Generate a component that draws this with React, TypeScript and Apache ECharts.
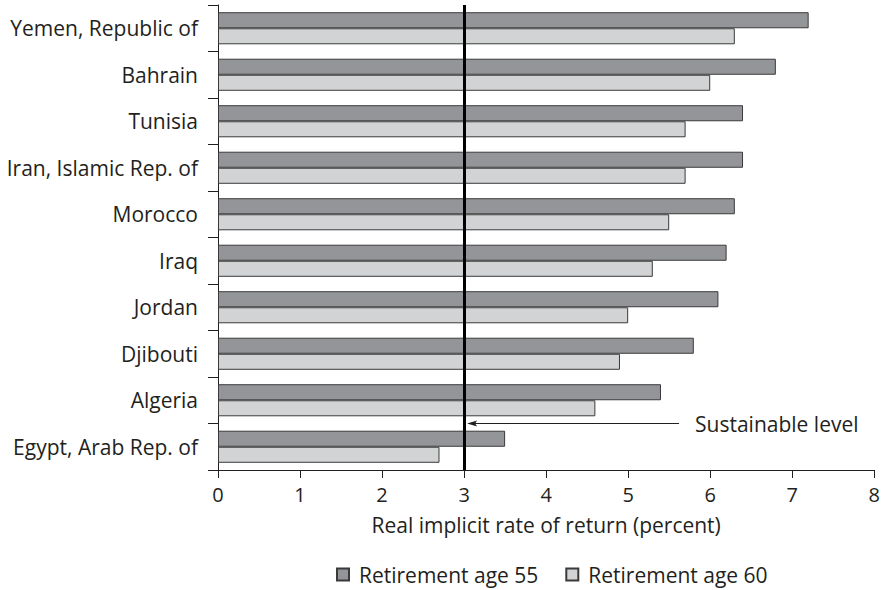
import React, { useEffect, useRef } from "react";
import * as echarts from "echarts";

const categories = [
  "Yemen, Republic of",
  "Bahrain",
  "Tunisia",
  "Iran, Islamic Rep. of",
  "Morocco",
  "Iraq",
  "Jordan",
  "Djibouti",
  "Algeria",
  "Egypt, Arab Rep. of",
];
const age55 = [7.2, 6.8, 6.4, 6.4, 6.3, 6.2, 6.1, 5.8, 5.4, 3.5];
const age60 = [6.3, 6.0, 5.7, 5.7, 5.5, 5.3, 5.0, 4.9, 4.6, 2.7];
const seriesNames = ["Retirement age 55", "Retirement age 60"];
const sustainableLevel = 3;
const annotationText = "Sustainable level";
const annotationStart = 5.62;

const FONT = "Open Sans";
const DARK = "#939598";
const LIGHT = "#d1d3d4";
const EDGE = "#3a3a3a";
const INK = "#231f20";

export default function App() {
  const ref = useRef<HTMLDivElement>(null);
  useEffect(() => {
    if (!ref.current) return;
    const chart = echarts.init(ref.current, null, { renderer: "svg" });
    chart.setOption({
      animation: false,
      textStyle: { fontFamily: FONT, color: INK },
      grid: { left: 218, right: 7, top: 5, bottom: 120 },
      legend: {
        bottom: 0,
        left: 331,
        itemWidth: 12,
        itemHeight: 12,
        itemGap: 27,
        icon: "rect",
        textStyle: { fontFamily: FONT, fontSize: 21, color: INK, padding: [0, 0, 0, 5] },
        data: seriesNames,
      },
      xAxis: {
        type: "value",
        min: 0,
        max: 8,
        interval: 1,
        name: "Real implicit rate of return (percent)",
        nameLocation: "middle",
        nameGap: 44,
        nameTextStyle: { fontFamily: FONT, fontSize: 21, color: INK },
        axisLine: { show: true, lineStyle: { color: INK, width: 1 } },
        axisTick: { show: true, length: 8, lineStyle: { color: INK } },
        axisLabel: { fontFamily: FONT, fontSize: 20, color: INK, margin: 14 },
        splitLine: { show: false },
      },
      yAxis: {
        type: "category",
        inverse: true,
        data: categories,
        axisLine: { show: true, lineStyle: { color: INK, width: 1 } },
        axisTick: { show: true, length: 10, lineStyle: { color: INK } },
        axisLabel: { fontFamily: FONT, fontSize: 21, color: INK, margin: 20 },
      },
      series: [
        {
          name: seriesNames[0],
          type: "bar",
          data: age55,
          barGap: "0%",
          barCategoryGap: "31%",
          itemStyle: { color: DARK, borderColor: EDGE, borderWidth: 1 },
          markLine: {
            silent: true,
            symbol: "none",
            label: { show: false },
            lineStyle: { color: "#000", width: 3, type: "solid" },
            data: [{ xAxis: sustainableLevel }],
          },
        },
        {
          name: seriesNames[1],
          type: "bar",
          data: age60,
          barGap: "0%",
          barCategoryGap: "31%",
          itemStyle: { color: LIGHT, borderColor: EDGE, borderWidth: 1 },
        },
      ],
    });

    const x3 = chart.convertToPixel({ xAxisIndex: 0 }, sustainableLevel) as number;
    const xs = chart.convertToPixel({ xAxisIndex: 0 }, annotationStart) as number;
    const yA = chart.convertToPixel({ yAxisIndex: 0 }, categories[8]) as number;
    const yE = chart.convertToPixel({ yAxisIndex: 0 }, categories[9]) as number;
    const yMid = (yA + yE) / 2;
    const tip = x3 + 3;
    chart.setOption({
      graphic: [
        {
          type: "line",
          shape: { x1: xs, y1: yMid, x2: tip + 6, y2: yMid },
          style: { stroke: INK, lineWidth: 1 },
          z: 100,
        },
        {
          type: "polygon",
          shape: { points: [[tip, yMid], [tip + 10, yMid - 3], [tip + 8, yMid], [tip + 10, yMid + 3]] },
          style: { fill: INK },
          z: 100,
        },
        {
          type: "text",
          x: xs + 16,
          y: yMid,
          style: {
            text: annotationText,
            fontFamily: FONT,
            fontSize: 21,
            fill: INK,
            verticalAlign: "middle",
            align: "left",
          },
          z: 100,
        },
      ],
    });
    return () => chart.dispose();
  }, []);
  return (
    <div
      ref={ref}
      style={{ position: "absolute", left: 0, top: 0, width: 883, height: 590 }}
    />
  );
}
